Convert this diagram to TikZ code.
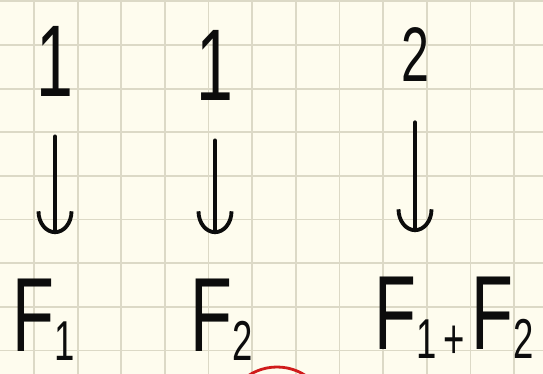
\documentclass[tikz,border=0pt]{standalone}
\usepackage{fontspec}
\usetikzlibrary{arrows.meta, positioning}
\newfontfamily\handfont[FakeStretch=0.65]{Liberation Sans}
\definecolor{paper}{RGB}{254,252,238}
\definecolor{gridgray}{RGB}{220,217,198}
\definecolor{ink}{RGB}{12,12,12}
\definecolor{markred}{RGB}{208,27,27}
\newcommand{\lowsub}[1]{\raisebox{-5pt}{\fontsize{32}{32}\selectfont #1}}
\tikzset{
  gridline/.style={draw=gridgray, line width=1pt},
  digit/.style={inner sep=0pt, text=ink, font=\handfont\fontsize{58}{58}\selectfont},
  term/.style={inner sep=0pt, anchor=base west, text=ink, font=\handfont\fontsize{60}{60}\selectfont},
  arrow/.style={-{Arc Barb[length=13pt, width=21pt]}, line width=2.2pt, color=ink,
    line cap=round, shorten <=0.8cm, shorten >=0.9cm}
}
\begin{document}
\begin{tikzpicture}[x=0.02cm, y=0.02cm]
  \useasboundingbox (0,0) rectangle (543,374);
  \fill[paper] (0,0) rectangle (543,374);

  % squared paper
  \foreach \gx in {0,...,11}
    \draw[gridline] ({34+43.65*\gx},0) -- ({34+43.65*\gx},374);
  \foreach \gy in {0,...,8}
    \draw[gridline] (0,{372.65-43.65*\gy}) -- (543,{372.65-43.65*\gy});

  % top row
  \node[digit] (one1) at (55,313) {1};
  \node[digit] (one2) at (215,309) {1};
  \node[digit, font=\handfont\fontsize{44}{44}\selectfont] (two) at (415,319) {2};

  % bottom row
  \node[term] (f1) at (12,22) {F\lowsub{1}};
  \node[term] (f2) at (190,22) {F\lowsub{2}};
  \node[term] (fsum) at (374,24) {F\lowsub{1}\kern4pt\lowsub{+}\kern4pt F\lowsub{2}};

  % arrows
  \draw[arrow] (one1.south) -- (one1.south |- f1.north);
  \draw[arrow] (one2.south) -- (one2.south |- f2.north);
  \draw[arrow] (two.south) -- (two.south |- fsum.north);

  % red mark cut by the page edge
  \begin{scope}
    \clip (0,0) rectangle (543,374);
    \draw[markred, line width=1.6pt] (277,-45) circle (52);
  \end{scope}
\end{tikzpicture}
\end{document}
